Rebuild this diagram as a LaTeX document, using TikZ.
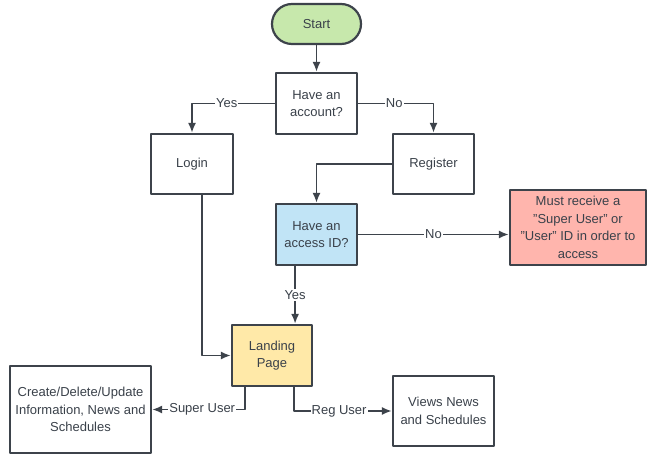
\documentclass[tikz,border=0pt]{standalone}
\usepackage{fontspec}
\setmainfont{Liberation Sans}
\usetikzlibrary{arrows.meta}
\definecolor{strokecol}{HTML}{3D434B}
\definecolor{textcol}{HTML}{3A414A}
\definecolor{startcol}{HTML}{C7E8AC}
\definecolor{idcol}{HTML}{C1E4F6}
\definecolor{denycol}{HTML}{FFB5AD}
\definecolor{landcol}{HTML}{FFE9A8}
\tikzset{
  box/.style={draw=strokecol,line width=2.2bp,fill=white,text=textcol,align=center,
    font=\fontsize{13bp}{17.5bp}\selectfont,inner sep=1bp},
  lbl/.style={fill=white,text=textcol,inner sep=1bp,font=\fontsize{13bp}{15bp}\selectfont},
  edge/.style={-{Latex[length=10bp,width=8bp]},draw=strokecol,line width=1.9bp},
}
\begin{document}
\begin{tikzpicture}[line join=bevel,x=1bp,y=-1bp]
  \useasboundingbox (0,0) rectangle (653,466);
%%
  % Node: Start
  \node[box,fill=startcol,rounded corners=20bp,minimum width=89bp,minimum height=40bp] (start) at (316.5,24) {Start};
  % Node: Have an account?
  \node[box,minimum width=81bp,minimum height=61bp] (account) at (316.5,103.5) {Have an\\account?};
  % Node: Login
  \node[box,minimum width=82bp,minimum height=60bp] (login) at (192,164) {Login};
  % Node: Register
  \node[box,minimum width=81bp,minimum height=60bp] (register) at (433.5,164) {Register};
  % Node: Have an access ID?
  \node[box,fill=idcol,minimum width=81bp,minimum height=61bp] (access) at (316.5,234.5) {Have an\\access ID?};
  % Node: Must receive ...
  \node[box,fill=denycol,minimum width=136bp,minimum height=75bp] (deny) at (578,227.5) {Must receive a\\"Super User" or\\"User" ID in order to\\access};
  % Node: Landing Page
  \node[box,fill=landcol,minimum width=80bp,minimum height=61bp] (landing) at (272,355.5) {Landing\\Page};
  % Node: Create/Delete/Update
  \node[box,minimum width=141bp,minimum height=87bp] (admin) at (80.5,409.5) {Create/Delete/Update\\Information, News and\\Schedules};
  % Node: Views News and Schedules
  \node[box,minimum width=101bp,minimum height=70bp] (views) at (443.5,411) {Views News\\and Schedules};
%%
  % Edge: Start -> Have an account?
  \draw[edge] (start) -- (account);
  % Edge: Have an account? -> Login
  \draw[edge] (account.west) -| node[lbl,pos=0.29] {Yes} (login.north);
  % Edge: Have an account? -> Register
  \draw[edge] (account.east) -| node[lbl,pos=0.24] {No} (register.north);
  % Edge: Register -> Have an access ID?
  \draw[edge] (register.west) -| (access.north);
  % Edge: Have an access ID? -> Must receive ...
  \draw[edge] (access.east) -- node[lbl] {No} (access.east -| deny.west);
  % Edge: Have an access ID? -> Landing Page
  \draw[edge] ([xshift=-18bp]landing.north east |- access.south) -- node[lbl] {Yes} ([xshift=-18bp]landing.north east);
  % Edge: Login -> Landing Page
  \draw[edge] ([xshift=10bp]login.south) |- (landing.west);
  % Edge: Landing Page -> Create/Delete/Update
  \draw[edge] ([xshift=14bp]landing.south west) |- node[lbl,pos=0.73] {Super User} (admin.east);
  % Edge: Landing Page -> Views News and Schedules
  \draw[edge] ([xshift=-19bp]landing.south east) |- node[lbl,pos=0.73] {Reg User} (views.west);
%
\end{tikzpicture}
\end{document}
